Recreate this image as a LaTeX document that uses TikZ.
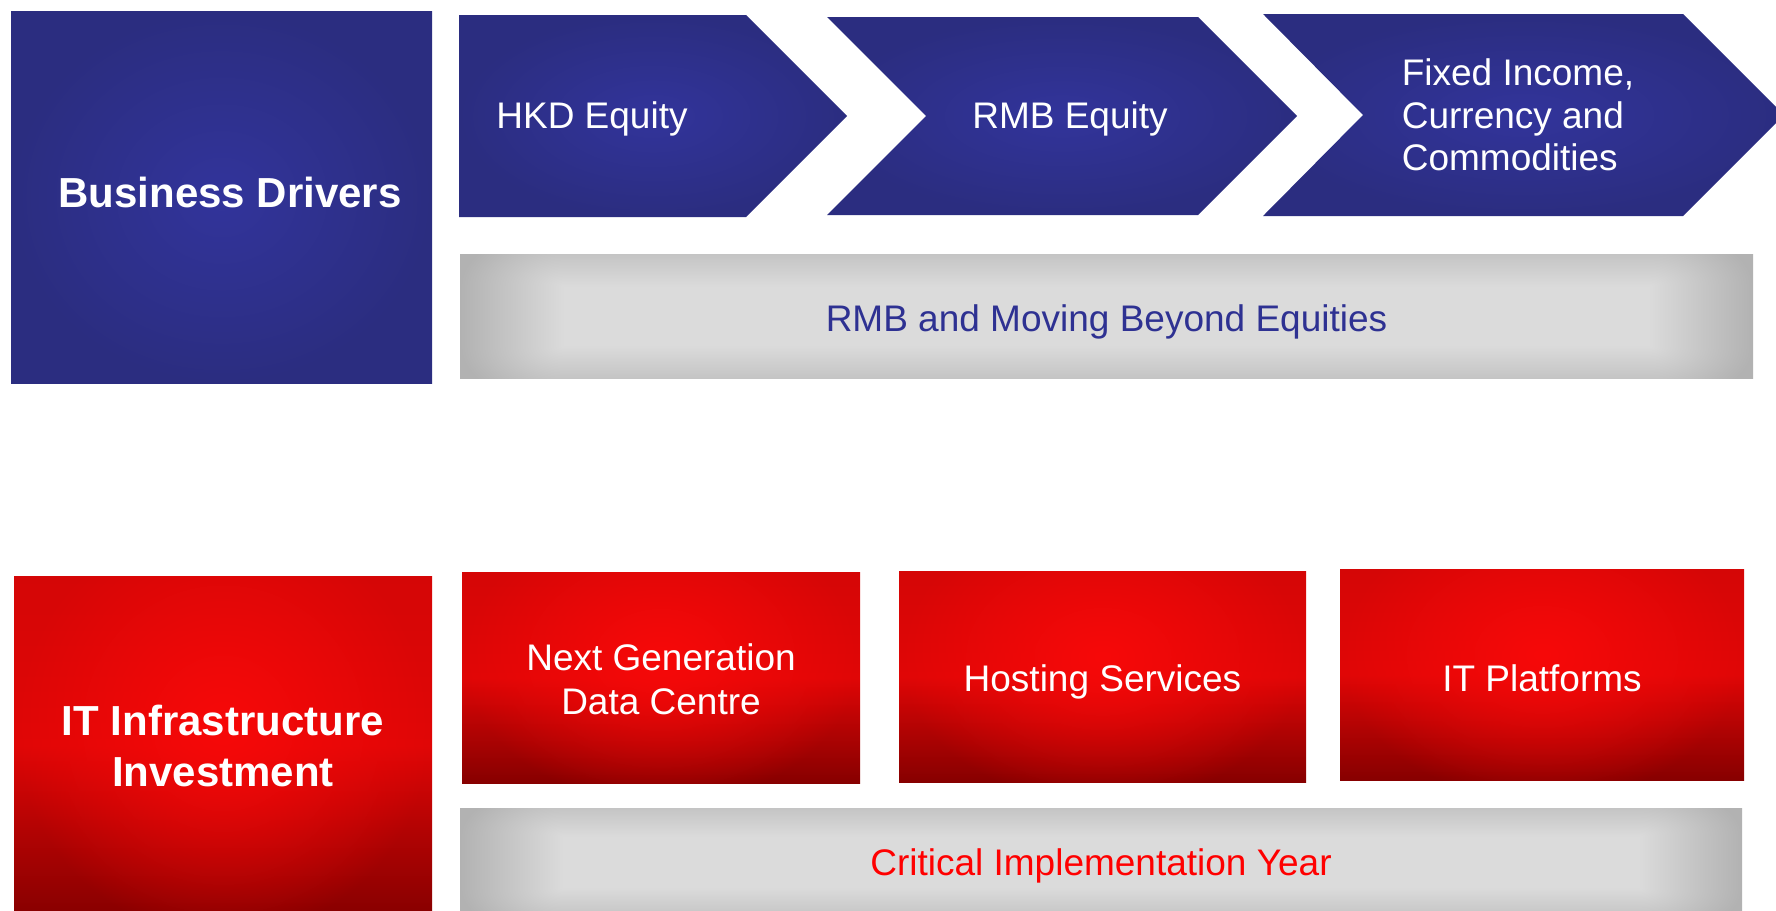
\documentclass[tikz,border=0pt]{standalone}
\usepackage{fontspec}
\setmainfont{Liberation Sans}
\usetikzlibrary{fadings}
\definecolor{drvblue}{HTML}{32349B}
\definecolor{drvblueedge}{HTML}{2B2D80}
\definecolor{txtblue}{HTML}{2E3192}
\definecolor{invred}{HTML}{F70909}
\definecolor{invredtop}{HTML}{D50606}
\definecolor{invredmid}{HTML}{E00606}
\definecolor{invredlow}{HTML}{B00303}
\definecolor{invreddark}{HTML}{870000}
\pgfdeclareverticalshading{redfall}{100bp}{color(0bp)=(invreddark); color(25bp)=(invreddark); color(37bp)=(invredlow); color(50bp)=(invredmid); color(75bp)=(invredtop); color(100bp)=(invredtop)}
% grey bar: light centre, darker rim, darkest at both ends
\pgfdeclarefunctionalshading{barglow}{\pgfpoint{-50bp}{-50bp}}{\pgfpoint{50bp}{50bp}}{}{
	abs 12 sub dup 0 lt {pop 0} if 24 div
	exch abs 21 sub dup 0 lt {pop 0} if 4 div
	dup mul exch dup mul add sqrt dup 1 gt {pop 1} if
	-0.16 mul 0.857 add dup dup
}
\tikzfading[name=glow, inner color=transparent!0, outer color=transparent!100]
\begin{document}
\begin{tikzpicture}[x=1pt, y=-1pt,
	bluebox/.style = {inner color=drvblue, outer color=drvblueedge},
	redbox/.style = {shade, shading=redfall, inner sep=0pt, path picture={\fill[invred, path fading=glow] ([yshift=-20pt]path picture bounding box.south west) rectangle ([yshift=60pt]path picture bounding box.north east);}},
	graybar/.style = {shade, shading=barglow, inner sep=0pt},
	bigtext/.style = {text=white, font=\bfseries\fontsize{42}{51}\selectfont, align=center},
	boxtext/.style = {font=\fontsize{37}{42.5}\selectfont}]
	\useasboundingbox (0,0) rectangle (1776,910);
	% business drivers
	\node[bluebox, minimum width=421pt, minimum height=372pt] (driversbox) at (221.5,197) {};
	\node[bigtext] (drivers) at (230,192) {Business Drivers};
	\shade[bluebox] (459,15) -- (746,15) -- (847,116) -- (746,217) -- (459,217) -- cycle;
	\shade[bluebox] (827,17) -- (1198,17) -- (1297,116) -- (1198,215) -- (827,215) -- (926,116) -- cycle;
	\shade[bluebox] (1263,14) -- (1683,14) -- (1784,115) -- (1683,216) -- (1263,216) -- (1363,115) -- cycle;
	\node[boxtext, text=white] (hkd) at (592,119) {HKD Equity};
	\node[boxtext, text=white] (rmb) at (1070,119) {RMB Equity};
	\node[boxtext, text=white, align=left] (fici) at (1518,115) {Fixed Income,\\Currency and\\Commodities};
	\node[graybar, minimum width=1293pt, minimum height=124pt] (beyondbar) at (1106.5,316) {};
	\node[boxtext, text=txtblue] (beyond) at (1106.5,321.5) {RMB and Moving Beyond Equities};
	% IT infrastructure
	\node[redbox, minimum width=418pt, minimum height=340pt] (infrabox) at (223,746) {};
	\node[bigtext] (infra) at (223,746) {IT Infrastructure\\Investment};
	\node[redbox, minimum width=398pt, minimum height=211pt] (ngdcbox) at (661,677.5) {};
	\node[boxtext, text=white, align=center] (ngdc) at (661,679) {Next Generation\\[1.5pt]Data Centre};
	\node[redbox, minimum width=407pt, minimum height=211pt] (hostingbox) at (1102.5,676.5) {};
	\node[boxtext, text=white] (hosting) at (1102.5,682) {Hosting Services};
	\node[redbox, minimum width=404pt, minimum height=211pt] (platformsbox) at (1542,674.5) {};
	\node[boxtext, text=white] (platforms) at (1542,678) {IT Platforms};
	\node[graybar, minimum width=1282pt, minimum height=108pt] (criticalbar) at (1101,862) {};
	\node[boxtext, text=red] (critical) at (1101,865.5) {Critical Implementation Year};
\end{tikzpicture}
\end{document}
